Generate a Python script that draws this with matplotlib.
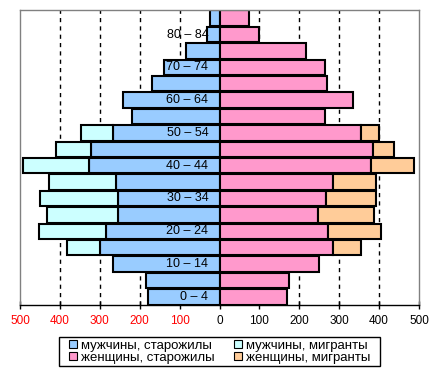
import numpy as np
import matplotlib.pyplot as plt
from matplotlib.patches import Patch, Rectangle

plt.rcParams['font.family'] = ['Liberation Sans', 'DejaVu Sans']

# age groups from bottom (0-4) to top (85+)
ages = ["0 – 4", "5 – 9", "10 – 14", "15 – 19", "20 – 24", "25 – 29", "30 – 34",
        "35 – 39", "40 – 44", "45 – 49", "50 – 54", "55 – 59", "60 – 64",
        "65 – 69", "70 – 74", "75 – 79", "80 – 84", "85+"]

men_old = [180, 185, 268, 299, 284, 254, 254, 259, 326, 321, 268, 220, 242, 170, 140, 85, 32, 23]
men_mig = [0, 0, 0, 84, 169, 179, 196, 169, 167, 89, 80, 0, 0, 0, 0, 0, 0, 0]
women_old = [168, 173, 250, 284, 271, 246, 266, 285, 380, 385, 354, 265, 335, 270, 265, 217, 100, 75]
women_mig = [0, 0, 0, 71, 134, 141, 126, 107, 107, 52, 46, 0, 0, 0, 0, 0, 0, 0]

labels = ["мужчины, старожилы", "женщины, старожилы",
          "мужчины, мигранты", "женщины, мигранты"]
colors = ["#99CCFF", "#FF99CC", "#CCFFFF", "#FFCC99"]

xticks = [-500, -400, -300, -200, -100, 0, 100, 200, 300, 400, 500]
grid_x = [-400, -300, -200, -100, 100, 200, 300, 400]

fig = plt.figure(figsize=(4.4, 3.75), dpi=100)
ax = fig.add_axes([20 / 440, 70 / 375, 399 / 440, 295 / 375])

y = np.arange(len(ages))
mo = np.array(men_old)
mm = np.array(men_mig)
wo = np.array(women_old)
wm = np.array(women_mig)

for gx in grid_x:
    ax.axvline(gx, color="black", linestyle=(0, (3, 3)), linewidth=1, zorder=0)

h = 0.94
kw = dict(height=h, edgecolor="black", linewidth=1.5, zorder=2)
ax.barh(y, -mo, color=colors[0], **kw)
ax.barh(y[mm > 0], -mm[mm > 0], left=-mo[mm > 0], color=colors[2], **kw)
ax.barh(y, wo, color=colors[1], **kw)
ax.barh(y[wm > 0], wm[wm > 0], left=wo[wm > 0], color=colors[3], **kw)

for i, a in enumerate(ages):
    if i % 2 == 0:
        ax.text(-28, i, a, ha="right", va="center", fontsize=9, zorder=3)

ax.set_xlim(-500, 500)
ax.set_ylim(-0.5, len(ages) - 0.5)
ax.set_yticks([])
ax.set_xticks(xticks)
ax.set_xticklabels([str(abs(v)) for v in xticks], fontsize=8.5)
for v, t in zip(xticks, ax.get_xticklabels()):
    if v < 0:
        t.set_color("red")
ax.tick_params(axis="x", direction="inout", length=6, width=1, pad=4)

for s in ["left", "top", "right"]:
    ax.spines[s].set_color("#808080")
    ax.spines[s].set_linewidth(1)
ax.spines["bottom"].set_color("black")
ax.spines["bottom"].set_linewidth(1)

# legend box drawn by hand so it can be wider than its content
fig.patches.append(Rectangle((59 / 440, 9 / 375), 321 / 440, 29 / 375,
                             transform=fig.transFigure, facecolor="white",
                             edgecolor="black", linewidth=1, zorder=1))
handles = [Patch(facecolor=c, edgecolor="black", linewidth=0.8) for c in colors]
leg = fig.legend(handles, labels, ncol=2, loc="center",
                 bbox_to_anchor=(219.5 / 440, 23.5 / 375), bbox_transform=fig.transFigure,
                 fontsize=9.5, frameon=False,
                 handlelength=0.6, handleheight=0.6, handletextpad=0.3,
                 columnspacing=1.5, labelspacing=0.0, borderpad=0)
leg.set_zorder(2)

fig.savefig("out.png", dpi=100)
